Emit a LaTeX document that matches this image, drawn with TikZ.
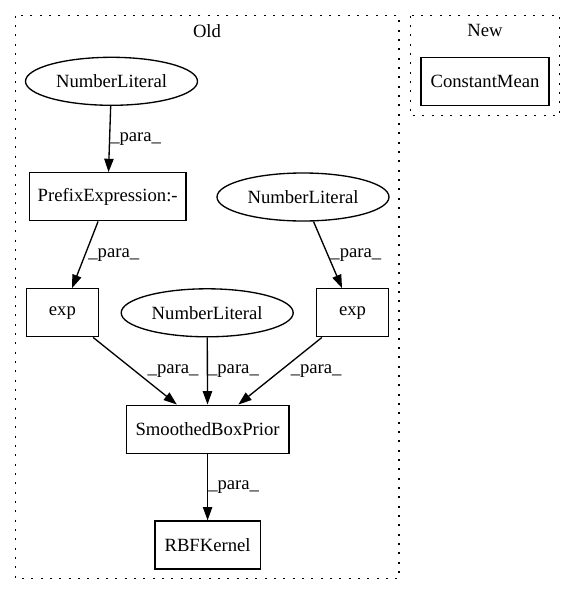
\documentclass[tikz,border=0pt]{standalone}
\usepackage{fontspec}
\setmainfont{Liberation Serif}
\usetikzlibrary{shapes.geometric}
\usetikzlibrary{arrows.meta}
\newcommand{\gvfont}{\fontsize{14pt}{16pt}\selectfont}
\tikzstyle{block} = [rectangle, draw, line width=1pt, font=\gvfont,
    minimum height=36pt, inner sep=0pt]
\tikzstyle{literal} = [ellipse, draw, line width=1pt, font=\gvfont,
    minimum width=129pt, minimum height=36pt, inner sep=0pt]
\tikzstyle{line} = [draw, line width=1pt, -{Stealth[length=10pt, width=7pt, inset=0pt]}]
\tikzstyle{cluster} = [draw, line width=1pt, dash pattern=on 1.5pt off 5.5pt]
\tikzstyle{lbl} = [font=\gvfont, inner sep=0pt, anchor=west]

\begin{document}
\begin{tikzpicture}[x=0.75pt, y=-0.75pt]
      \useasboundingbox (0,0) rectangle (576,596);
      \path [cluster] (15.7,15.7) rectangle (399,578.7);
      \path [cluster] (410.3,15.7) rectangle (559.3,115.7);
      \node [font=\gvfont] (old) at (207,30.7) {Old};
      \node [font=\gvfont] (new) at (485,30.7) {New};
      \node [block, minimum width=96pt] (mean) at (485,81.3) {ConstantMean};
      \node [literal] (lit1) at (111.5,81.3) {NumberLiteral};
      \node [block, minimum width=117.5pt] (prefix) at (107.7,196.8) {PrefixExpression:-};
      \node [literal] (lit2) at (303,197) {NumberLiteral};
      \node [block, minimum width=54pt] (exp1) at (62.4,312.8) {exp};
      \node [literal] (lit3) at (207.2,312.8) {NumberLiteral};
      \node [block, minimum width=54pt] (exp2) at (352.6,312.8) {exp};
      \node [block, minimum width=122pt] (prior) at (207.6,429.2) {SmoothedBoxPrior};
      \node [block, minimum width=79pt] (kernel) at (207.6,545) {RBFKernel};
      \path [line] (lit1) -- (prefix) node[lbl, midway] {\_para\_};
      \path [line] (prefix) -- (exp1) node[lbl, midway, xshift=2pt] {\_para\_};
      \path [line] (lit2) -- (exp2) node[lbl, midway, xshift=1.5pt] {\_para\_};
      \path [line] (exp1) -- (prior) node[lbl, midway, xshift=9pt] {\_para\_};
      \path [line] (lit3) -- (prior) node[lbl, midway] {\_para\_};
      \path [line] (exp2) -- (prior) node[lbl, midway, xshift=7.5pt] {\_para\_};
      \path [line] (prior) -- (kernel) node[lbl, midway] {\_para\_};
  \end{tikzpicture}
\end{document}
